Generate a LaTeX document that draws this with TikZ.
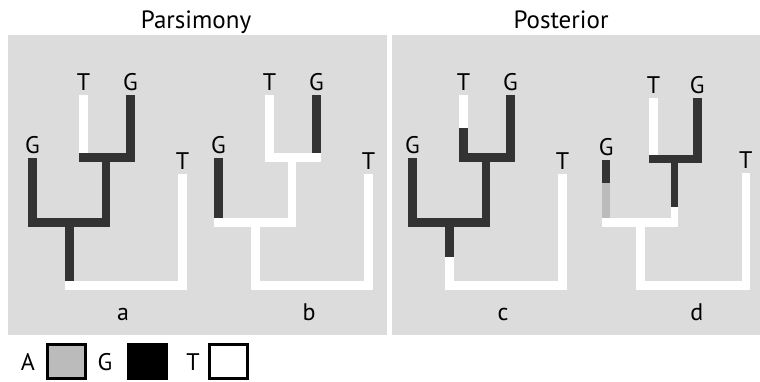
\documentclass[tikz,border=0pt]{standalone}
\usepackage{fontspec}
\setmainfont{PT Sans}

\definecolor{panelgray}{RGB}{220,220,220}
\definecolor{branchdark}{RGB}{51,51,51}
\definecolor{stateA}{RGB}{187,187,187}

\tikzset{
    dk/.style={fill=branchdark},
    wt/.style={fill=white},
    ag/.style={fill=stateA},
    leaflabel/.style={anchor=south,inner sep=4pt,font=\fontsize{24}{24}\selectfont},
    treename/.style={anchor=base,inner sep=0pt,font=\fontsize{24}{24}\selectfont},
    legbox/.style={draw=black,line width=3pt,minimum width=38pt,minimum height=34pt,inner sep=0pt},
}

\begin{document}
\begin{tikzpicture}[x=1pt,y=-1pt]
    \useasboundingbox (0,0) rectangle (760,381);

    % panels and titles
    \fill[panelgray] (8,35) rectangle (387,335);
    \fill[panelgray] (392,35) rectangle (760,335);
    \node[treename,font=\fontsize{25}{25}\selectfont] (pars) at (196,28) {Parsimony};
    \node[treename,font=\fontsize{25}{25}\selectfont] (post) at (561,28) {Posterior};

    % tree a
    \begin{scope}[xshift=28pt]
        \fill[wt] (51,95) rectangle (60,153);
        \fill[wt] (150,174) rectangle (159,290);
        \fill[wt] (37,281) rectangle (159,290);
        \fill[dk] (0,158) rectangle (9,227);
        \fill[dk] (0,218) rectangle (82,227);
        \fill[dk] (74,153) rectangle (82,227);
        \fill[dk] (51,153) rectangle (107,162);
        \fill[dk] (98,95) rectangle (107,162);
        \fill[dk] (37,227) rectangle (46,281);
        \node[leaflabel] (aG1) at (4.5,158) {G};
        \node[leaflabel] (aT1) at (55.5,95) {T};
        \node[leaflabel] (aG2) at (102.5,95) {G};
        \node[leaflabel] (aT2) at (154.5,174) {T};
        \node[treename] (a) at (95,320) {a};
    \end{scope}

    % tree b
    \begin{scope}[xshift=214pt]
        \fill[dk] (0,158) rectangle (9,218);
        \fill[dk] (98,95) rectangle (107,153);
        \fill[wt] (0,218) rectangle (82,227);
        \fill[wt] (74,153) rectangle (82,227);
        \fill[wt] (51,153) rectangle (107,162);
        \fill[wt] (51,95) rectangle (60,153);
        \fill[wt] (37,227) rectangle (46,290);
        \fill[wt] (37,281) rectangle (159,290);
        \fill[wt] (150,174) rectangle (159,290);
        \node[leaflabel] (bG1) at (4.5,158) {G};
        \node[leaflabel] (bT1) at (55.5,95) {T};
        \node[leaflabel] (bG2) at (102.5,95) {G};
        \node[leaflabel] (bT2) at (154.5,174) {T};
        \node[treename] (b) at (95,320) {b};
    \end{scope}

    % tree c
    \begin{scope}[xshift=408pt]
        \fill[wt] (51,95) rectangle (60,128);
        \fill[dk] (51,128) rectangle (60,153);
        \fill[dk] (0,158) rectangle (9,227);
        \fill[dk] (0,218) rectangle (82,227);
        \fill[dk] (74,153) rectangle (82,227);
        \fill[dk] (51,153) rectangle (107,162);
        \fill[dk] (98,95) rectangle (107,162);
        \fill[dk] (37,227) rectangle (46,257);
        \fill[wt] (37,257) rectangle (46,290);
        \fill[wt] (37,281) rectangle (159,290);
        \fill[wt] (150,174) rectangle (159,290);
        \node[leaflabel] (cG1) at (4.5,158) {G};
        \node[leaflabel] (cT1) at (55.5,95) {T};
        \node[leaflabel] (cG2) at (102.5,95) {G};
        \node[leaflabel] (cT2) at (154.5,174) {T};
        \node[treename] (c) at (95,320) {c};
    \end{scope}

    % tree d (a little narrower)
    \begin{scope}[xshift=602pt,xscale=0.93]
        \fill[dk] (0,160) rectangle (9,183);
        \fill[ag] (0,183) rectangle (9,218);
        \fill[wt] (0,218) rectangle (82,227);
        \fill[dk] (74,155) rectangle (82,207);
        \fill[wt] (74,207) rectangle (82,227);
        \fill[wt] (51,98) rectangle (60,155);
        \fill[dk] (51,155) rectangle (107,163);
        \fill[dk] (98,98) rectangle (107,163);
        \fill[wt] (37,227) rectangle (46,290);
        \fill[wt] (37,281) rectangle (159,290);
        \fill[wt] (150,173) rectangle (159,290);
        \node[leaflabel] (dG1) at (4.5,160) {G};
        \node[leaflabel] (dT1) at (55.5,98) {T};
        \node[leaflabel] (dG2) at (102.5,98) {G};
        \node[leaflabel] (dT2) at (154.5,173) {T};
        \node[treename] (d) at (102,320) {d};
    \end{scope}

    % legend
    \node[treename] (labA) at (28,370) {A};
    \node[legbox,fill=stateA] (boxA) at (66.5,361.5) {};
    \node[treename] (labG) at (105,370) {G};
    \node[legbox,fill=black] (boxG) at (147.5,361.5) {};
    \node[treename] (labT) at (193,370) {T};
    \node[legbox,fill=white] (boxT) at (228.5,361.5) {};
\end{tikzpicture}
\end{document}
